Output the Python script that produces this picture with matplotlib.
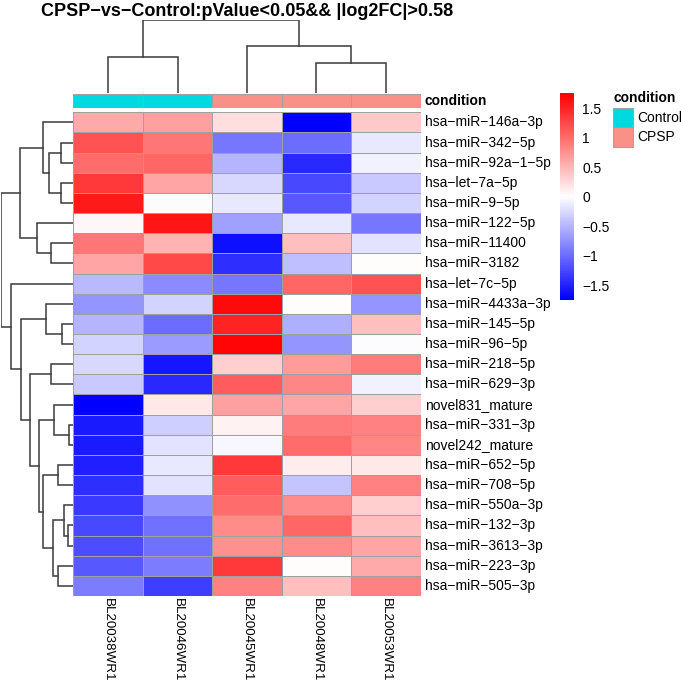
import numpy as np
import matplotlib
matplotlib.use("Agg")
import matplotlib.pyplot as plt
from matplotlib.colors import LinearSegmentedColormap, ListedColormap
from matplotlib.patches import Rectangle

plt.rcParams['font.family'] = ['Liberation Sans', 'DejaVu Sans']

# данные
samples = ['BL20038WR1', 'BL20046WR1', 'BL20045WR1', 'BL20048WR1', 'BL20053WR1']
condition = ['Control', 'Control', 'CPSP', 'CPSP', 'CPSP']
genes = ['hsa-miR-146a-3p', 'hsa-miR-342-5p', 'hsa-miR-92a-1-5p', 'hsa-let-7a-5p',
         'hsa-miR-9-5p', 'hsa-miR-122-5p', 'hsa-miR-11400', 'hsa-miR-3182',
         'hsa-let-7c-5p', 'hsa-miR-4433a-3p', 'hsa-miR-145-5p', 'hsa-miR-96-5p',
         'hsa-miR-218-5p', 'hsa-miR-629-3p', 'novel831_mature', 'hsa-miR-331-3p',
         'novel242_mature', 'hsa-miR-652-5p', 'hsa-miR-708-5p', 'hsa-miR-550a-3p',
         'hsa-miR-132-3p', 'hsa-miR-3613-3p', 'hsa-miR-223-3p', 'hsa-miR-505-3p']

# z-score по строкам
zscore = np.array([
    [0.58, 0.65, 0.24, -1.75, 0.38],
    [1.17, 0.93, -0.93, -1.00, -0.14],
    [1.00, 1.05, -0.50, -1.45, -0.08],
    [1.37, 0.62, -0.27, -1.24, -0.38],
    [1.58, -0.02, -0.17, -1.13, -0.31],
    [0.06, 1.61, -0.65, -0.17, -0.93],
    [0.95, 0.51, -1.61, 0.45, -0.20],
    [0.62, 1.24, -1.40, -0.45, 0.03],
    [-0.48, -0.79, -0.93, 1.03, 1.17],
    [-0.72, -0.31, 1.68, 0.01, -0.72],
    [-0.51, -1.00, 1.51, -0.55, 0.45],
    [-0.31, -0.69, 1.72, -0.72, 0.00],
    [-0.27, -1.58, 0.34, 0.69, 0.89],
    [-0.38, -1.44, 1.10, 0.82, -0.10],
    [-1.75, 0.16, 0.64, 0.62, 0.34],
    [-1.54, -0.34, 0.10, 0.89, 0.86],
    [-1.54, -0.20, -0.05, 1.00, 0.82],
    [-1.51, -0.17, 1.34, 0.12, 0.17],
    [-1.40, -0.20, 1.10, -0.41, 0.86],
    [-1.35, -0.75, 1.00, 0.79, 0.34],
    [-1.24, -0.96, 0.79, 1.03, 0.45],
    [-1.20, -0.96, 0.75, 0.79, 0.62],
    [-1.13, -0.89, 1.34, 0.03, 0.58],
    [-0.89, -1.30, 0.86, 0.45, 0.86],
])

# деревья кластеризации: (левый, правый, высота), узлы n+k
row_merges = [(1, 2, 12), (3, 4, 12), (24, 25, 24), (0, 26, 30), (6, 7, 22),
              (5, 28, 36), (27, 29, 53), (10, 11, 11), (9, 31, 27), (12, 13, 22),
              (15, 16, 4), (14, 34, 19), (17, 18, 15), (20, 21, 5), (19, 37, 9),
              (22, 23, 15), (38, 39, 20), (36, 40, 30), (35, 41, 34), (33, 42, 43),
              (32, 43, 52), (8, 44, 62), (30, 45, 72)]
col_merges = [(0, 1, 0.49), (3, 4, 0.42), (2, 6, 0.65), (5, 7, 1.0)]

cond_colors = {'Control': '#00D9E0', 'CPSP': '#FA9189'}
vmin, vmax = -1.75, 1.76

W, H = 681, 684
fig = plt.figure(figsize=(W / 100, H / 100), dpi=100)


def px_axes(x0, y0, x1, y1):
    return fig.add_axes([x0 / W, 1 - y1 / H, (x1 - x0) / W, (y1 - y0) / H])


def dendro_segments(merges, n):
    pos = {i: i + 0.5 for i in range(n)}
    hgt = {i: 0.0 for i in range(n)}
    segs = []
    for k, (a, b, h) in enumerate(merges):
        segs.append([(pos[a], hgt[a]), (pos[a], h), (pos[b], h), (pos[b], hgt[b])])
        pos[n + k] = (pos[a] + pos[b]) / 2
        hgt[n + k] = h
    return segs


hm_x0, hm_x1, hm_y0, hm_y1 = 73.3, 420.7, 112.3, 596
nrow, ncol = zscore.shape
cmap = LinearSegmentedColormap.from_list('bwr2', ['blue', 'white', 'red'], N=100)
dcol = '#3A3A3A'

# тепловая карта
ax = px_axes(hm_x0, hm_y0, hm_x1, hm_y1)
ax.pcolormesh(zscore, cmap=cmap, vmin=vmin, vmax=vmax, edgecolors='#A0A0A0', linewidth=0.7)
ax.set_xlim(0, ncol)
ax.set_ylim(nrow, 0)
ax.axis('off')
for i, g in enumerate(genes):
    ax.text(ncol + 0.06, i + 0.5, g.replace('-', '\u2212'), ha='left', va='center', fontsize=10)
for j, s in enumerate(samples):
    ax.text(j + 0.5, nrow + 0.12, s, rotation=270, ha='center', va='top', fontsize=9.6)

# аннотация
ax_ann = px_axes(hm_x0, 94.3, hm_x1, 107.7)
levels = list(cond_colors)
codes = np.array([[levels.index(c) for c in condition]])
ax_ann.pcolormesh(codes, cmap=ListedColormap([cond_colors[l] for l in levels]),
                  vmin=-0.5, vmax=len(levels) - 0.5, edgecolors='#A0A0A0', linewidth=0.7)
ax_ann.set_xlim(0, ncol)
ax_ann.set_ylim(1, 0)
ax_ann.axis('off')
ax_ann.text(ncol + 0.06, 0.5, 'condition', ha='left', va='center', fontsize=10, fontweight='bold')

# дендрограмма столбцов
ax_cd = px_axes(hm_x0, 20, hm_x1, 93.3)
for seg in dendro_segments(col_merges, ncol):
    xs, ys = zip(*seg)
    ax_cd.plot(xs, ys, color=dcol, lw=1.1, solid_joinstyle='miter')
ax_cd.set_xlim(0, ncol)
ax_cd.set_ylim(0, 1.0)
ax_cd.axis('off')

# дендрограмма строк
ax_rd = px_axes(1, hm_y0, 73.3, hm_y1)
for seg in dendro_segments(row_merges, nrow):
    ys, xs = zip(*seg)
    ax_rd.plot(xs, ys, color=dcol, lw=1.1, solid_joinstyle='miter')
ax_rd.set_xlim(72.3, 0)
ax_rd.set_ylim(nrow, 0)
ax_rd.axis('off')

# заголовок
fig.text(((hm_x0 + hm_x1) / 2) / W, 1 - 11 / H,
         'CPSP\u2212vs\u2212Control:pValue<0.05&& |log2FC|>0.58',
         ha='center', va='center', fontsize=13, fontweight='bold')

# шкала цвета
ax_cb = px_axes(560, 93, 574, 300)
grad = np.linspace(vmin, vmax, 200).reshape(-1, 1)
ax_cb.imshow(grad, cmap=cmap, vmin=vmin, vmax=vmax, aspect='auto', origin='lower',
             extent=[0, 1, vmin, vmax])
ax_cb.set_xticks([])
ax_cb.yaxis.tick_right()
ticks = [-1.5, -1, -0.5, 0, 0.5, 1, 1.5]
ax_cb.set_yticks(ticks)
ax_cb.set_yticklabels([('%g' % t).replace('-', '\u2212') for t in ticks], fontsize=10)
ax_cb.tick_params(axis='y', length=0, pad=6)
for sp in ax_cb.spines.values():
    sp.set_visible(False)

# легенда
fig.text(613 / W, 1 - 98 / H, 'condition', ha='left', va='center', fontsize=10, fontweight='bold')
for k, lev in enumerate(levels):
    y_top = 108 + k * 19.5
    fig.patches.append(Rectangle((613 / W, 1 - (y_top + 19.5) / H), 20 / W, 19.5 / H,
                                 transform=fig.transFigure, facecolor=cond_colors[lev],
                                 edgecolor='#A0A0A0', lw=0.7))
    fig.text(637 / W, 1 - (y_top + 9.75) / H, lev, ha='left', va='center', fontsize=10)

fig.savefig('out.png', dpi=100)
